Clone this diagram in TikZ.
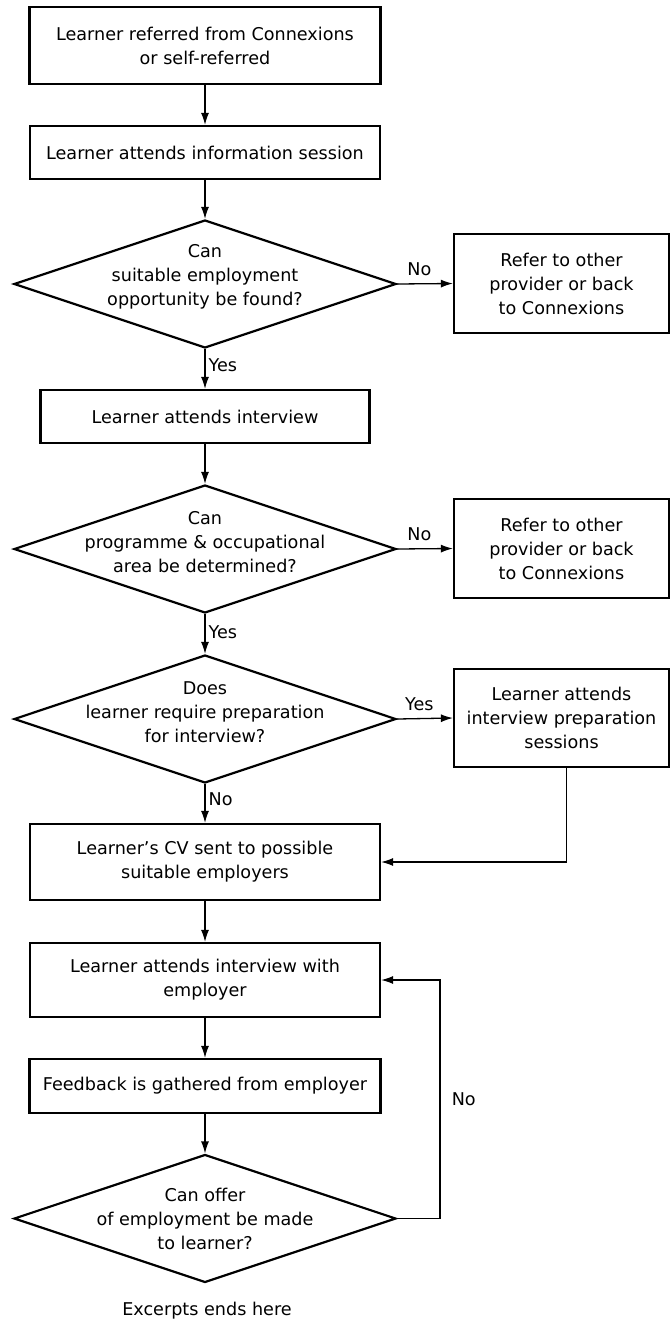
\documentclass[tikz,border=0pt]{standalone}
\usepackage{fontspec}
\setmainfont{DejaVu Sans}
\usepackage{tikz}
\usetikzlibrary{shapes.geometric}
\usetikzlibrary{arrows.meta}

\begin{document}
\begin{tikzpicture}[x=1pt,y=-1pt,line cap=rect,
	flowbox/.style={draw=custcol_0_0_0, line width=2.2pt, rectangle, inner sep=0, align=center, font=\flowfont},
	flowdiam/.style={draw=custcol_0_0_0, line width=2.2pt, diamond, inner sep=0, minimum width=382pt, minimum height=128pt},
	flowarrow/.style={custcol_0_0_0, line width=1.3pt, line cap=butt, -{Latex[length=12pt,width=8pt]}},
	flowlabel/.style={font=\flowfont, inner sep=3pt, align=center}]
						\def\flowfont{\fontsize{17.6pt}{24pt}\selectfont}
						\definecolor{custcol_0_0_0}{RGB}{0, 0, 0}
						\useasboundingbox (0,0) rectangle (671,1320);
						% main column
						\node[flowbox, minimum width=351pt, minimum height=77pt] (referred) at (205,45.5) {Learner referred from Connexions\\or self-referred};
						\node[flowbox, minimum width=350pt, minimum height=53pt] (infosession) at (205,152.5) {Learner attends information session};
						\node[flowdiam, label={[flowlabel, yshift=7pt]center:Can\\suitable employment\\opportunity be found?}] (canfind) at (205,284) {};
						\node[flowbox, minimum width=329pt, minimum height=53pt] (interview) at (205,416.5) {Learner attends interview};
						\node[flowdiam, label={[flowlabel, yshift=7pt]center:Can\\programme \& occupational\\area be determined?}] (canarea) at (205,549) {};
						\node[flowdiam, label={[flowlabel, yshift=7pt]center:Does\\learner require preparation\\for interview?}] (needprep) at (205,719) {};
						\node[flowbox, minimum width=350pt, minimum height=76pt] (cvsent) at (205,862) {Learner's CV sent to possible\\suitable employers};
						\node[flowbox, minimum width=350pt, minimum height=74pt] (empinterview) at (205,980) {Learner attends interview with\\employer};
						\node[flowbox, minimum width=351pt, minimum height=54pt] (feedback) at (205,1086) {Feedback is gathered from employer};
						\node[flowdiam, label={[flowlabel]center:Can offer\\of employment be made\\to learner?}] (canoffer) at (205,1218.5) {};
						\node[flowlabel] (endnote) at (207,1311) {Excerpts ends here};
						% side column
						\node[flowbox, minimum width=215pt, minimum height=99pt] (referA) at (561.5,283.5) {Refer to other\\provider or back\\to Connexions};
						\node[flowbox, minimum width=215pt, minimum height=99pt] (referB) at (561.5,548.5) {Refer to other\\provider or back\\to Connexions};
						\node[flowbox, minimum width=215pt, minimum height=98pt] (prepsession) at (561.5,718) {Learner attends\\interview preparation\\sessions};
						% connectors
						\draw [flowarrow] (referred) -- (infosession);
						\draw [flowarrow] (infosession) -- (canfind);
						\draw [flowarrow] (canfind.south) -- node[flowlabel, right, pos=0.4] {Yes} (interview.north);
						\draw [flowarrow] (canfind.east) -- node[flowlabel, above, pos=0.4, yshift=4pt] {No} (referA.west);
						\draw [flowarrow] (interview) -- (canarea);
						\draw [flowarrow] (canarea.east) -- node[flowlabel, above, pos=0.4, yshift=4pt] {No} (referB.west);
						\draw [flowarrow] (canarea.south) -- node[flowlabel, right, pos=0.45] {Yes} (needprep.north);
						\draw [flowarrow] (needprep.east) -- node[flowlabel, above, pos=0.4, yshift=4pt] {Yes} (prepsession.west);
						\draw [flowarrow] (needprep.south) -- node[flowlabel, right, pos=0.4] {No} (cvsent.north);
						\draw [flowarrow] ([xshift=5pt]prepsession.south) |- (cvsent.east);
						\draw [flowarrow] (cvsent) -- (empinterview);
						\draw [flowarrow] (empinterview) -- (feedback);
						\draw [flowarrow] (feedback) -- (canoffer);
						\draw [flowarrow] (canoffer.east) -- ++(43,0) |- node[flowlabel, right, pos=0.25, xshift=8pt] {No} (empinterview.east);
						\end{tikzpicture}
\end{document}
